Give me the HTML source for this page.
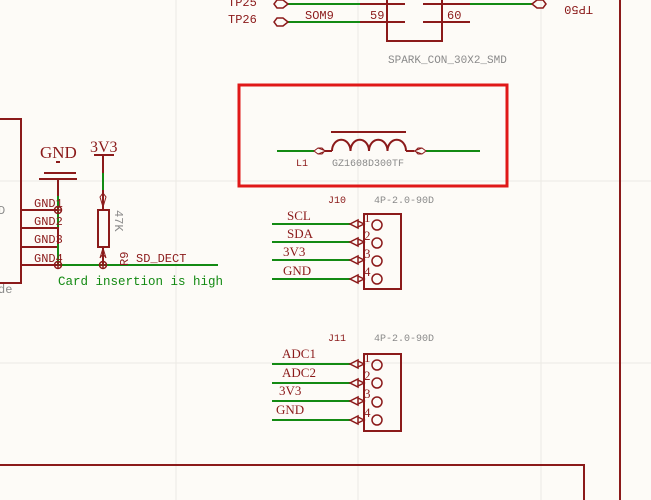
<!DOCTYPE html>
<html><head><style>
html,body{margin:0;padding:0;background:#fdfbf7;}
svg{display:block;font-size:11px}
text{font-family:"Liberation Mono",monospace;fill:#8b1a1a}
.s{font-family:"Liberation Serif",serif;}
.g{fill:#8a8a8a}
.gr{fill:#138a13}
</style></head><body>
<svg width="651" height="500" viewBox="0 0 651 500" xmlns="http://www.w3.org/2000/svg">
<rect width="651" height="500" fill="#fdfbf7"/>
<g stroke="#ece9e4" stroke-width="1">
<line x1="176" y1="0" x2="176" y2="500"/><line x1="358" y1="0" x2="358" y2="500"/><line x1="541" y1="0" x2="541" y2="500"/>
<line x1="0" y1="181" x2="651" y2="181"/><line x1="0" y1="363" x2="651" y2="363"/>
</g>
<g stroke="#138a13" stroke-width="2"><line x1="288" y1="4" x2="360" y2="4"/><line x1="288" y1="22" x2="360" y2="22"/><line x1="470" y1="4" x2="532" y2="4"/></g>
<g stroke="#8b1a1a" stroke-width="2" fill="none">
<line x1="360" y1="4" x2="405" y2="4"/><line x1="360" y1="22" x2="405" y2="22"/>
<line x1="423" y1="4" x2="470" y2="4"/><line x1="423" y1="22" x2="470" y2="22"/>
<polyline points="387,0 387,41 442,41 442,0"/>
<path d="M288,4 l-5,-4 h-6 l-3,4 l3,4 h6z M288,22 l-5,-4 h-6 l-3,4 l3,4 h6z M532,4 l5,-4 h6 l3,4 l-3,4 h-6z" stroke-width="1.5"/>
<line x1="620" y1="0" x2="620" y2="500"/>
<polyline points="0,465 584,465 584,500"/>
<polyline points="0,119 21,119 21,283 0,283"/>
<line x1="21" y1="210" x2="58" y2="210"/><line x1="21" y1="228" x2="58" y2="228"/><line x1="21" y1="247" x2="58" y2="247"/><line x1="21" y1="265" x2="58" y2="265"/>
<line x1="58" y1="179" x2="58" y2="265"/>
<line x1="44" y1="173" x2="76" y2="173"/><line x1="39" y1="179" x2="77" y2="179"/><line x1="56" y1="162" x2="60" y2="162"/>
<line x1="94" y1="155" x2="114" y2="155"/><line x1="103" y1="155" x2="103" y2="190"/>
<line x1="103" y1="190" x2="103" y2="210"/><rect x="98" y="210" width="11" height="37"/><line x1="103" y1="247" x2="103" y2="265"/>
<path d="M100,197 l3,-4 l3,4 l-3,10z M100,258 l3,-4 l3,4 l-3,-10z" stroke-width="1"/>
</g>
<g stroke="#138a13" stroke-width="2">
<line x1="58" y1="196" x2="58" y2="210"/><line x1="58" y1="210" x2="58" y2="227"/><line x1="58" y1="244" x2="58" y2="265"/>
<line x1="103" y1="173" x2="103" y2="190"/>
<line x1="58" y1="265" x2="218" y2="265"/>
</g>
<g stroke="#8b1a1a" stroke-width="1.5" fill="none">
<circle cx="58" cy="210" r="3.5"/><line x1="54" y1="210" x2="62" y2="210"/><line x1="58" y1="206" x2="58" y2="214"/>
<circle cx="58" cy="265" r="3.5"/><line x1="54" y1="265" x2="62" y2="265"/><line x1="58" y1="261" x2="58" y2="269"/>
<circle cx="103" cy="265" r="3.5"/><line x1="99" y1="265" x2="107" y2="265"/><line x1="103" y1="261" x2="103" y2="269"/>
</g>
<text x="-2" y="214" class="g" font-size="12">D</text>
<text x="-2" y="293" class="g" font-size="12">de</text>
<text x="40" y="158" class="s" font-size="17">GND</text>
<text x="90" y="152" class="s" font-size="16">3V3</text>
<g font-size="12"><text x="34" y="207">GND1</text><text x="34" y="225">GND2</text><text x="34" y="243">GND3</text><text x="34" y="262">GND4</text></g>
<text x="0" y="0" class="g" font-size="12" transform="translate(115,210) rotate(90)">47K</text>
<text x="0" y="0" font-size="12" transform="translate(128,266) rotate(-90)">R9</text>
<text x="136" y="262" font-size="12">SD_DECT</text>
<text x="58" y="285" class="gr" font-size="12.5">Card insertion is high</text>
<g font-size="12">
<text x="228" y="6">TP25</text><text x="228" y="23">TP26</text>
<text x="305" y="19">SOM9</text><text x="370" y="19">59</text><text x="447" y="19">60</text>
<text x="0" y="0" transform="translate(593,6) rotate(180)">TP50</text>
</g>
<text x="388" y="63" class="g" font-size="11">SPARK_CON_30X2_SMD</text>
<rect x="239" y="85" width="268" height="101" fill="none" stroke="#e01818" stroke-width="3"/>
<g stroke="#138a13" stroke-width="2"><line x1="277" y1="151" x2="314" y2="151"/><line x1="426" y1="151" x2="480" y2="151"/></g>
<g stroke="#8b1a1a" stroke-width="2" fill="none">
<line x1="331" y1="132" x2="406" y2="132"/>
<path d="M332,151 a9,11 0 0 1 18.5,0 a9,11 0 0 1 18.5,0 a9,11 0 0 1 18.5,0 a9,11 0 0 1 18.5,0"/>
<path d="M314,151 l4,-3 h4 l3,3 l-3,3 h-4z M318,148 l8,3 l-8,3 M426,151 l-4,-3 h-4 l-3,3 l3,3 h4z M422,148 l-8,3 l8,3" stroke-width="1"/>
<line x1="325" y1="151" x2="332" y2="151"/><line x1="406" y1="151" x2="414" y2="151"/>
</g>
<text x="296" y="166" font-size="10">L1</text>
<text x="332" y="166" class="g" font-size="10">GZ1608D300TF</text>
<text x="328" y="203" font-size="10">J10</text><text x="374" y="203" class="g" font-size="10">4P-2.0-90D</text>
<text x="328" y="341" font-size="10">J11</text><text x="374" y="341" class="g" font-size="10">4P-2.0-90D</text>
<g stroke="#138a13" stroke-width="2">
<line x1="272" y1="224" x2="350" y2="224"/><line x1="272" y1="242" x2="350" y2="242"/><line x1="272" y1="260" x2="350" y2="260"/><line x1="272" y1="279" x2="350" y2="279"/>
<line x1="272" y1="364" x2="350" y2="364"/><line x1="272" y1="383" x2="350" y2="383"/><line x1="272" y1="401" x2="350" y2="401"/><line x1="272" y1="420" x2="350" y2="420"/>
</g>
<g stroke="#8b1a1a" stroke-width="1.5" fill="none">
<rect x="364" y="214" width="37" height="75" stroke-width="2"/>
<rect x="364" y="354" width="37" height="77" stroke-width="2"/>
<path d="M350,224 l8,-4 v8z M358,221 l6,3 l-6,3 M350,242 l8,-4 v8z M358,239 l6,3 l-6,3 M350,260 l8,-4 v8z M358,257 l6,3 l-6,3 M350,279 l8,-4 v8z M358,276 l6,3 l-6,3"/>
<path d="M350,364 l8,-4 v8z M358,361 l6,3 l-6,3 M350,383 l8,-4 v8z M358,380 l6,3 l-6,3 M350,401 l8,-4 v8z M358,398 l6,3 l-6,3 M350,420 l8,-4 v8z M358,417 l6,3 l-6,3"/>
<circle cx="377" cy="225" r="5"/><circle cx="377" cy="243" r="5"/><circle cx="377" cy="261" r="5"/><circle cx="377" cy="279" r="5"/>
<circle cx="377" cy="365" r="5"/><circle cx="377" cy="383" r="5"/><circle cx="377" cy="402" r="5"/><circle cx="377" cy="420" r="5"/>
</g>
<g font-size="13">
<text x="287" y="220" class="s">SCL</text><text x="287" y="238" class="s">SDA</text><text x="283" y="256" class="s">3V3</text><text x="283" y="275" class="s">GND</text>
<text x="282" y="358" class="s">ADC1</text><text x="282" y="377" class="s">ADC2</text><text x="279" y="395" class="s">3V3</text><text x="276" y="414" class="s">GND</text>
<text x="364" y="222" class="s">1</text><text x="364" y="240" class="s">2</text><text x="364" y="258" class="s">3</text><text x="364" y="276" class="s">4</text>
<text x="364" y="362" class="s">1</text><text x="364" y="380" class="s">2</text><text x="364" y="398" class="s">3</text><text x="364" y="417" class="s">4</text>
</g>
</svg>
</body></html>
